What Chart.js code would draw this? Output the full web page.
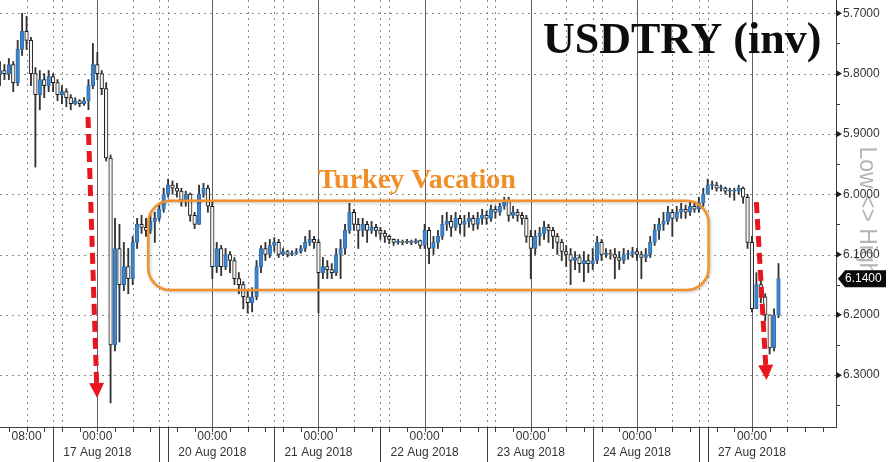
<!DOCTYPE html>
<html>
<head>
<meta charset="utf-8">
<title>USDTRY (inv)</title>
<script src="https://cdn.jsdelivr.net/npm/chart.js@4.4.1/dist/chart.umd.min.js"></script>
<style>
    html, body { margin: 0; padding: 0; background: #ffffff; }
    #usdtryChart { display: block; }
</style>
</head>
<body>
<canvas id="usdtryChart" width="890" height="462"></canvas>
<script>
// USDTRY (inverted axis), hourly bars 16 Aug - 27 Aug 2018
// x = trading hour index (weekends squeezed out), y = USDTRY rate

const firstOpen = 5.800;

const closePrices = [
    5.795, 5.800, 5.785, 5.815, 5.760, 5.730, 5.745, 5.800, 5.835, 5.810,
    5.820, 5.805, 5.815, 5.835, 5.830, 5.840, 5.850, 5.845, 5.850, 5.845,
    5.820, 5.785, 5.800, 5.825, 5.940, 6.250, 6.090, 6.150, 6.120, 6.140,
    6.080, 6.050, 6.055, 6.060, 6.045, 6.040, 6.025, 6.000, 5.985, 5.990,
    5.995, 6.010, 6.000, 6.035, 6.050, 6.000, 5.990, 6.020, 6.120, 6.090,
    6.120, 6.100, 6.110, 6.140, 6.150, 6.170, 6.180, 6.170, 6.120, 6.090,
    6.100, 6.085, 6.080, 6.100, 6.095, 6.100, 6.098, 6.095, 6.090, 6.080,
    6.075, 6.080, 6.130, 6.120, 6.125, 6.130, 6.100, 6.090, 6.060, 6.030,
    6.050, 6.060, 6.050, 6.060, 6.055, 6.060, 6.065, 6.070, 6.075, 6.080,
    6.078, 6.080, 6.078, 6.080, 6.077, 6.085, 6.060, 6.090, 6.080, 6.070,
    6.050, 6.045, 6.055, 6.040, 6.050, 6.045, 6.040, 6.050, 6.040, 6.035,
    6.040, 6.025, 6.030, 6.020, 6.010, 6.035, 6.030, 6.035, 6.040, 6.070,
    6.090, 6.070, 6.065, 6.055, 6.060, 6.070, 6.080, 6.095, 6.100, 6.110,
    6.105, 6.115, 6.110, 6.115, 6.110, 6.080, 6.100, 6.098, 6.100, 6.105,
    6.110, 6.100, 6.100, 6.095, 6.100, 6.105, 6.100, 6.080, 6.060, 6.050,
    6.045, 6.030, 6.040, 6.030, 6.025, 6.030, 6.020, 6.025, 6.015, 6.000,
    5.985, 5.985, 5.990, 5.990, 5.995, 5.995, 5.995, 5.990, 6.005, 6.080,
    6.190, 6.150, 6.170, 6.200, 6.255, 6.200, 6.140
];

const lowPrices = [
    5.780, 5.785, 5.775, 5.780, 5.745, 5.700, 5.705, 5.740, 5.790, 5.795,
    5.800, 5.795, 5.800, 5.810, 5.820, 5.825, 5.835, 5.840, 5.843, 5.840,
    5.810, 5.750, 5.765, 5.795, 5.815, 5.935, 6.040, 6.050, 6.080, 6.090,
    6.070, 6.040, 6.035, 6.040, 6.035, 6.030, 6.015, 5.990, 5.975, 5.978,
    5.982, 5.990, 5.995, 5.998, 6.030, 5.985, 5.982, 5.985, 6.010, 6.080,
    6.085, 6.090, 6.095, 6.105, 6.130, 6.145, 6.160, 6.155, 6.110, 6.085,
    6.080, 6.075, 6.072, 6.075, 6.090, 6.093, 6.094, 6.090, 6.085, 6.070,
    6.060, 6.070, 6.075, 6.105, 6.110, 6.115, 6.090, 6.075, 6.050, 6.015,
    6.025, 6.040, 6.040, 6.045, 6.045, 6.050, 6.055, 6.060, 6.068, 6.074,
    6.075, 6.076, 6.075, 6.076, 6.074, 6.076, 6.050, 6.055, 6.070, 6.060,
    6.035, 6.030, 6.035, 6.030, 6.035, 6.035, 6.030, 6.035, 6.030, 6.025,
    6.028, 6.018, 6.020, 6.015, 6.005, 6.005, 6.020, 6.025, 6.030, 6.035,
    6.060, 6.060, 6.055, 6.045, 6.050, 6.055, 6.065, 6.075, 6.085, 6.090,
    6.095, 6.100, 6.095, 6.100, 6.090, 6.070, 6.075, 6.090, 6.092, 6.090,
    6.095, 6.090, 6.093, 6.088, 6.090, 6.095, 6.090, 6.070, 6.050, 6.040,
    6.030, 6.020, 6.025, 6.020, 6.015, 6.018, 6.012, 6.012, 6.005, 5.990,
    5.975, 5.978, 5.980, 5.985, 5.988, 5.990, 5.990, 5.985, 5.988, 6.000,
    6.070, 6.130, 6.140, 6.165, 6.200, 6.190, 6.115
];

const highPrices = [
    5.820, 5.810, 5.810, 5.830, 5.820, 5.770, 5.760, 5.820, 5.955, 5.860,
    5.840, 5.830, 5.830, 5.845, 5.850, 5.855, 5.860, 5.852, 5.855, 5.853,
    5.860, 5.825, 5.810, 5.835, 5.945, 6.346, 6.260, 6.245, 6.160, 6.165,
    6.150, 6.090, 6.065, 6.070, 6.065, 6.080, 6.045, 6.030, 6.005, 6.000,
    6.005, 6.020, 6.020, 6.045, 6.057, 6.050, 6.005, 6.030, 6.140, 6.130,
    6.135, 6.125, 6.130, 6.150, 6.165, 6.190, 6.197, 6.195, 6.175, 6.130,
    6.110, 6.105, 6.095, 6.105, 6.102, 6.104, 6.102, 6.100, 6.098, 6.095,
    6.085, 6.090, 6.197, 6.140, 6.140, 6.140, 6.135, 6.140, 6.100, 6.065,
    6.060, 6.090, 6.070, 6.080, 6.065, 6.070, 6.075, 6.080, 6.082, 6.085,
    6.083, 6.084, 6.082, 6.084, 6.082, 6.090, 6.090, 6.115, 6.100, 6.090,
    6.075, 6.060, 6.070, 6.060, 6.065, 6.070, 6.055, 6.060, 6.058, 6.050,
    6.050, 6.045, 6.040, 6.035, 6.025, 6.045, 6.040, 6.045, 6.050, 6.080,
    6.140, 6.100, 6.085, 6.075, 6.080, 6.090, 6.100, 6.110, 6.120, 6.150,
    6.125, 6.130, 6.145, 6.130, 6.125, 6.115, 6.110, 6.105, 6.108, 6.140,
    6.125, 6.115, 6.108, 6.105, 6.110, 6.140, 6.112, 6.105, 6.085, 6.075,
    6.060, 6.050, 6.070, 6.045, 6.040, 6.040, 6.035, 6.030, 6.030, 6.020,
    6.000, 5.992, 5.995, 5.995, 6.000, 6.005, 6.010, 6.000, 6.015, 6.090,
    6.195, 6.190, 6.180, 6.210, 6.265, 6.260, 6.205
];

const lastPrice = 6.14;

// hour index of 00:00 for each labelled day
const dayStarts = [22, 48, 72, 96, 120, 144, 170];
const dayLabels = ['17 Aug 2018', '20 Aug 2018', '21 Aug 2018', '22 Aug 2018',
                   '23 Aug 2018', '24 Aug 2018', '27 Aug 2018'];
const timeLabels = { 6: '08:00' };

// axis furniture
const yTickValues = [5.7, 5.8, 5.9, 6.0, 6.1, 6.2, 6.3];
const yMinorValues = [5.75, 5.85, 5.95, 6.05, 6.15, 6.25, 6.35];
const xTickHours = [2, 6, 10, 14, 18, 22, 26, 30, 34, 38, 40, 44, 48, 52, 56, 60, 64, 68,
                    72, 76, 80, 84, 88, 92, 96, 100, 104, 108, 112, 116, 120, 124, 128,
                    132, 136, 140, 144, 148, 152, 156, 160, 162, 166, 170, 174, 178, 182, 186];
const dottedHours = [6, 12, 14, 30, 36, 38, 56, 62, 64, 80, 86, 88, 104, 110, 112,
                     128, 134, 136, 152, 158, 160, 178];
const sessionBreaks = [12, 36, 38, 62, 86, 110, 134, 158, 160];

const labelFont = '"Liberation Sans", Arial, sans-serif';

const openPrices = closePrices.map((c, i) => i === 0 ? firstOpen : closePrices[i - 1]);
const isUp = i => closePrices[i] > openPrices[i];

function line(ctx, x1, y1, x2, y2) {
    ctx.beginPath();
    ctx.moveTo(x1, y1);
    ctx.lineTo(x2, y2);
    ctx.stroke();
}

function drawDashedArrow(ctx, x1, y1, x2, y2) {
    const len = Math.hypot(x2 - x1, y2 - y1);
    const ux = (x2 - x1) / len, uy = (y2 - y1) / len;
    const head = 15, half = 7.5;
    ctx.save();
    ctx.strokeStyle = '#e8161e';
    ctx.fillStyle = '#e8161e';
    ctx.lineWidth = 5;
    ctx.setLineDash([11, 6]);
    line(ctx, x1, y1, x2 - ux * head, y2 - uy * head);
    ctx.setLineDash([]);
    ctx.beginPath();
    ctx.moveTo(x2, y2);
    ctx.lineTo(x2 - ux * head - uy * half, y2 - uy * head + ux * half);
    ctx.lineTo(x2 - ux * head + uy * half, y2 - uy * head - ux * half);
    ctx.closePath();
    ctx.fill();
    ctx.restore();
}

function roundRectPath(ctx, x, y, w, h, r) {
    ctx.beginPath();
    ctx.moveTo(x + r, y);
    ctx.arcTo(x + w, y, x + w, y + h, r);
    ctx.arcTo(x + w, y + h, x, y + h, r);
    ctx.arcTo(x, y + h, x, y, r);
    ctx.arcTo(x, y, x + w, y, r);
    ctx.closePath();
}

// grid, axis ticks and the annotations
const chartDecor = {
    id: 'chartDecor',
    beforeDraw(chart) {
        const { ctx } = chart;
        ctx.save();
        ctx.fillStyle = '#ffffff';
        ctx.fillRect(0, 0, chart.width, chart.height);
        // axis direction hint
        ctx.translate(866, 211);
        ctx.rotate(Math.PI / 2);
        ctx.fillStyle = '#b4b4b4';
        ctx.font = '23px ' + labelFont;
        ctx.textAlign = 'center';
        ctx.textBaseline = 'middle';
        ctx.fillText('Low <> High', 0, 0);
        ctx.restore();
    },
    beforeDatasetsDraw(chart) {
        const { ctx, chartArea: a, scales: { x, y } } = chart;
        const px = h => Math.round(x.getPixelForValue(h)) + 0.5;
        const py = v => Math.round(y.getPixelForValue(v)) + 0.5;
        ctx.save();
        ctx.lineWidth = 1;

        ctx.strokeStyle = '#8a8a8a';
        ctx.setLineDash([2, 4]);
        yTickValues.forEach(v => line(ctx, a.left, py(v), a.right, py(v)));
        dottedHours.forEach(h => line(ctx, px(h), a.top, px(h), a.bottom));
        ctx.setLineDash([]);

        ctx.strokeStyle = '#606060';
        dayStarts.forEach(h => line(ctx, px(h), a.top, px(h), a.bottom));

        ctx.strokeStyle = '#404040';
        xTickHours.forEach(h => line(ctx, px(h), a.bottom, px(h), a.bottom + 5));
        sessionBreaks.forEach(h => line(ctx, px(h), a.bottom, px(h), chart.height));

        yMinorValues.forEach(v => line(ctx, a.right, py(v), a.right + 4, py(v)));
        ctx.fillStyle = '#202020';
        yTickValues.forEach(v => {
            const yy = y.getPixelForValue(v);
            ctx.beginPath();
            ctx.moveTo(a.right, yy - 3.5);
            ctx.lineTo(a.right + 6, yy);
            ctx.lineTo(a.right, yy + 3.5);
            ctx.closePath();
            ctx.fill();
        });
        ctx.restore();
    },
    afterDatasetsDraw(chart) {
        const { ctx, chartArea: a, scales: { x, y } } = chart;
        ctx.save();

        // "Turkey Vacation" range box
        const bx0 = x.getPixelForValue(33.5), bx1 = x.getPixelForValue(160.2);
        const by0 = y.getPixelForValue(6.011), by1 = y.getPixelForValue(6.159);
        ctx.shadowColor = 'rgba(0, 0, 0, 0.25)';
        ctx.shadowBlur = 3;
        ctx.shadowOffsetX = 1;
        ctx.shadowOffsetY = 1;
        ctx.strokeStyle = '#f0932e';
        ctx.lineWidth = 2.5;
        roundRectPath(ctx, bx0, by0, bx1 - bx0, by1 - by0, 22);
        ctx.stroke();
        ctx.shadowColor = 'transparent';

        ctx.fillStyle = '#f08e28';
        ctx.font = 'bold 28px "Liberation Serif", "Times New Roman", serif';
        ctx.textBaseline = 'alphabetic';
        ctx.fillText('Turkey Vacation', 318, 188);

        ctx.fillStyle = '#0d0d0d';
        ctx.font = 'bold 44px "Liberation Serif", "Times New Roman", serif';
        ctx.fillText('USDTRY (inv)', 543, 53);

        // red dashed arrows
        drawDashedArrow(ctx, x.getPixelForValue(19.9), y.getPixelForValue(5.872),
                        x.getPixelForValue(21.95), y.getPixelForValue(6.338));
        drawDashedArrow(ctx, x.getPixelForValue(171.0), y.getPixelForValue(6.013),
                        x.getPixelForValue(173.3), y.getPixelForValue(6.308));

        // last price tag
        const ty = y.getPixelForValue(lastPrice);
        ctx.fillStyle = '#0a0a0a';
        ctx.beginPath();
        ctx.moveTo(a.right + 2, ty);
        ctx.lineTo(a.right + 9, ty - 8.5);
        ctx.lineTo(886, ty - 8.5);
        ctx.lineTo(886, ty + 8.5);
        ctx.lineTo(a.right + 9, ty + 8.5);
        ctx.closePath();
        ctx.fill();
        ctx.fillStyle = '#ffffff';
        ctx.font = '12px ' + labelFont;
        ctx.textAlign = 'left';
        ctx.textBaseline = 'middle';
        ctx.fillText(lastPrice.toFixed(4), 845, ty + 0.5);
        ctx.restore();
    }
};

let usdtryChart = null;

function initUsdtryChart() {
    const ctx = document.getElementById('usdtryChart').getContext('2d');
    const hours = closePrices.map((c, i) => i);

    usdtryChart = new Chart(ctx, {
        type: 'bar',
        data: {
            datasets: [{
                label: 'Range',
                data: hours.map(i => ({
                    x: i,
                    y: [Math.min(lowPrices[i], openPrices[i], closePrices[i]),
                        Math.max(highPrices[i], openPrices[i], closePrices[i])]
                })),
                backgroundColor: '#333333',
                barThickness: 1.2,
                grouped: false,
                order: 2
            }, {
                label: 'Body',
                data: hours.map(i => ({ x: i, y: [openPrices[i], closePrices[i]] })),
                backgroundColor: c => isUp(c.dataIndex) ? '#f4f4f4' : '#3d86cc',
                borderColor: c => isUp(c.dataIndex) ? '#1b1b1b' : '#2f6fae',
                borderWidth: 1,
                borderSkipped: false,
                barThickness: 3.6,
                minBarLength: 1,
                grouped: false,
                order: 1
            }]
        },
        options: {
            responsive: false,
            animation: false,
            layout: { padding: 0 },
            plugins: {
                legend: { display: false },
                tooltip: { enabled: false }
            },
            scales: {
                x: {
                    type: 'linear',
                    min: 0,
                    max: 189,
                    bounds: 'data',
                    offset: false,
                    grid: { display: false, drawTicks: false },
                    border: { display: true, color: '#404040' },
                    afterBuildTicks: scale => {
                        scale.ticks = xTickHours.map(v => ({ value: v }));
                    },
                    afterFit: scale => {
                        scale.height = 35;
                        scale.paddingLeft = 0;
                        scale.paddingRight = 0;
                    },
                    ticks: {
                        autoSkip: false,
                        maxRotation: 0,
                        minRotation: 0,
                        padding: 2,
                        color: '#333333',
                        font: { family: labelFont, size: 12, lineHeight: 1.3 },
                        callback: value => {
                            const d = dayStarts.indexOf(value);
                            if (d >= 0) return ['00:00', dayLabels[d]];
                            return timeLabels[value] || '';
                        }
                    }
                },
                y: {
                    position: 'right',
                    reverse: true,
                    min: 5.678,
                    max: 6.386,
                    bounds: 'data',
                    grid: { display: false, drawTicks: false },
                    border: { display: true, color: '#404040' },
                    afterBuildTicks: scale => {
                        scale.ticks = yTickValues.map(v => ({ value: v }));
                    },
                    afterFit: scale => {
                        scale.width = 54;
                        scale.paddingTop = 0;
                        scale.paddingBottom = 0;
                    },
                    ticks: {
                        padding: 7,
                        color: '#333333',
                        font: { family: labelFont, size: 12 },
                        callback: value => Number(value).toFixed(4)
                    }
                }
            }
        },
        plugins: [chartDecor]
    });
}

document.addEventListener('DOMContentLoaded', function() {
    initUsdtryChart();
});
</script>
</body>
</html>
